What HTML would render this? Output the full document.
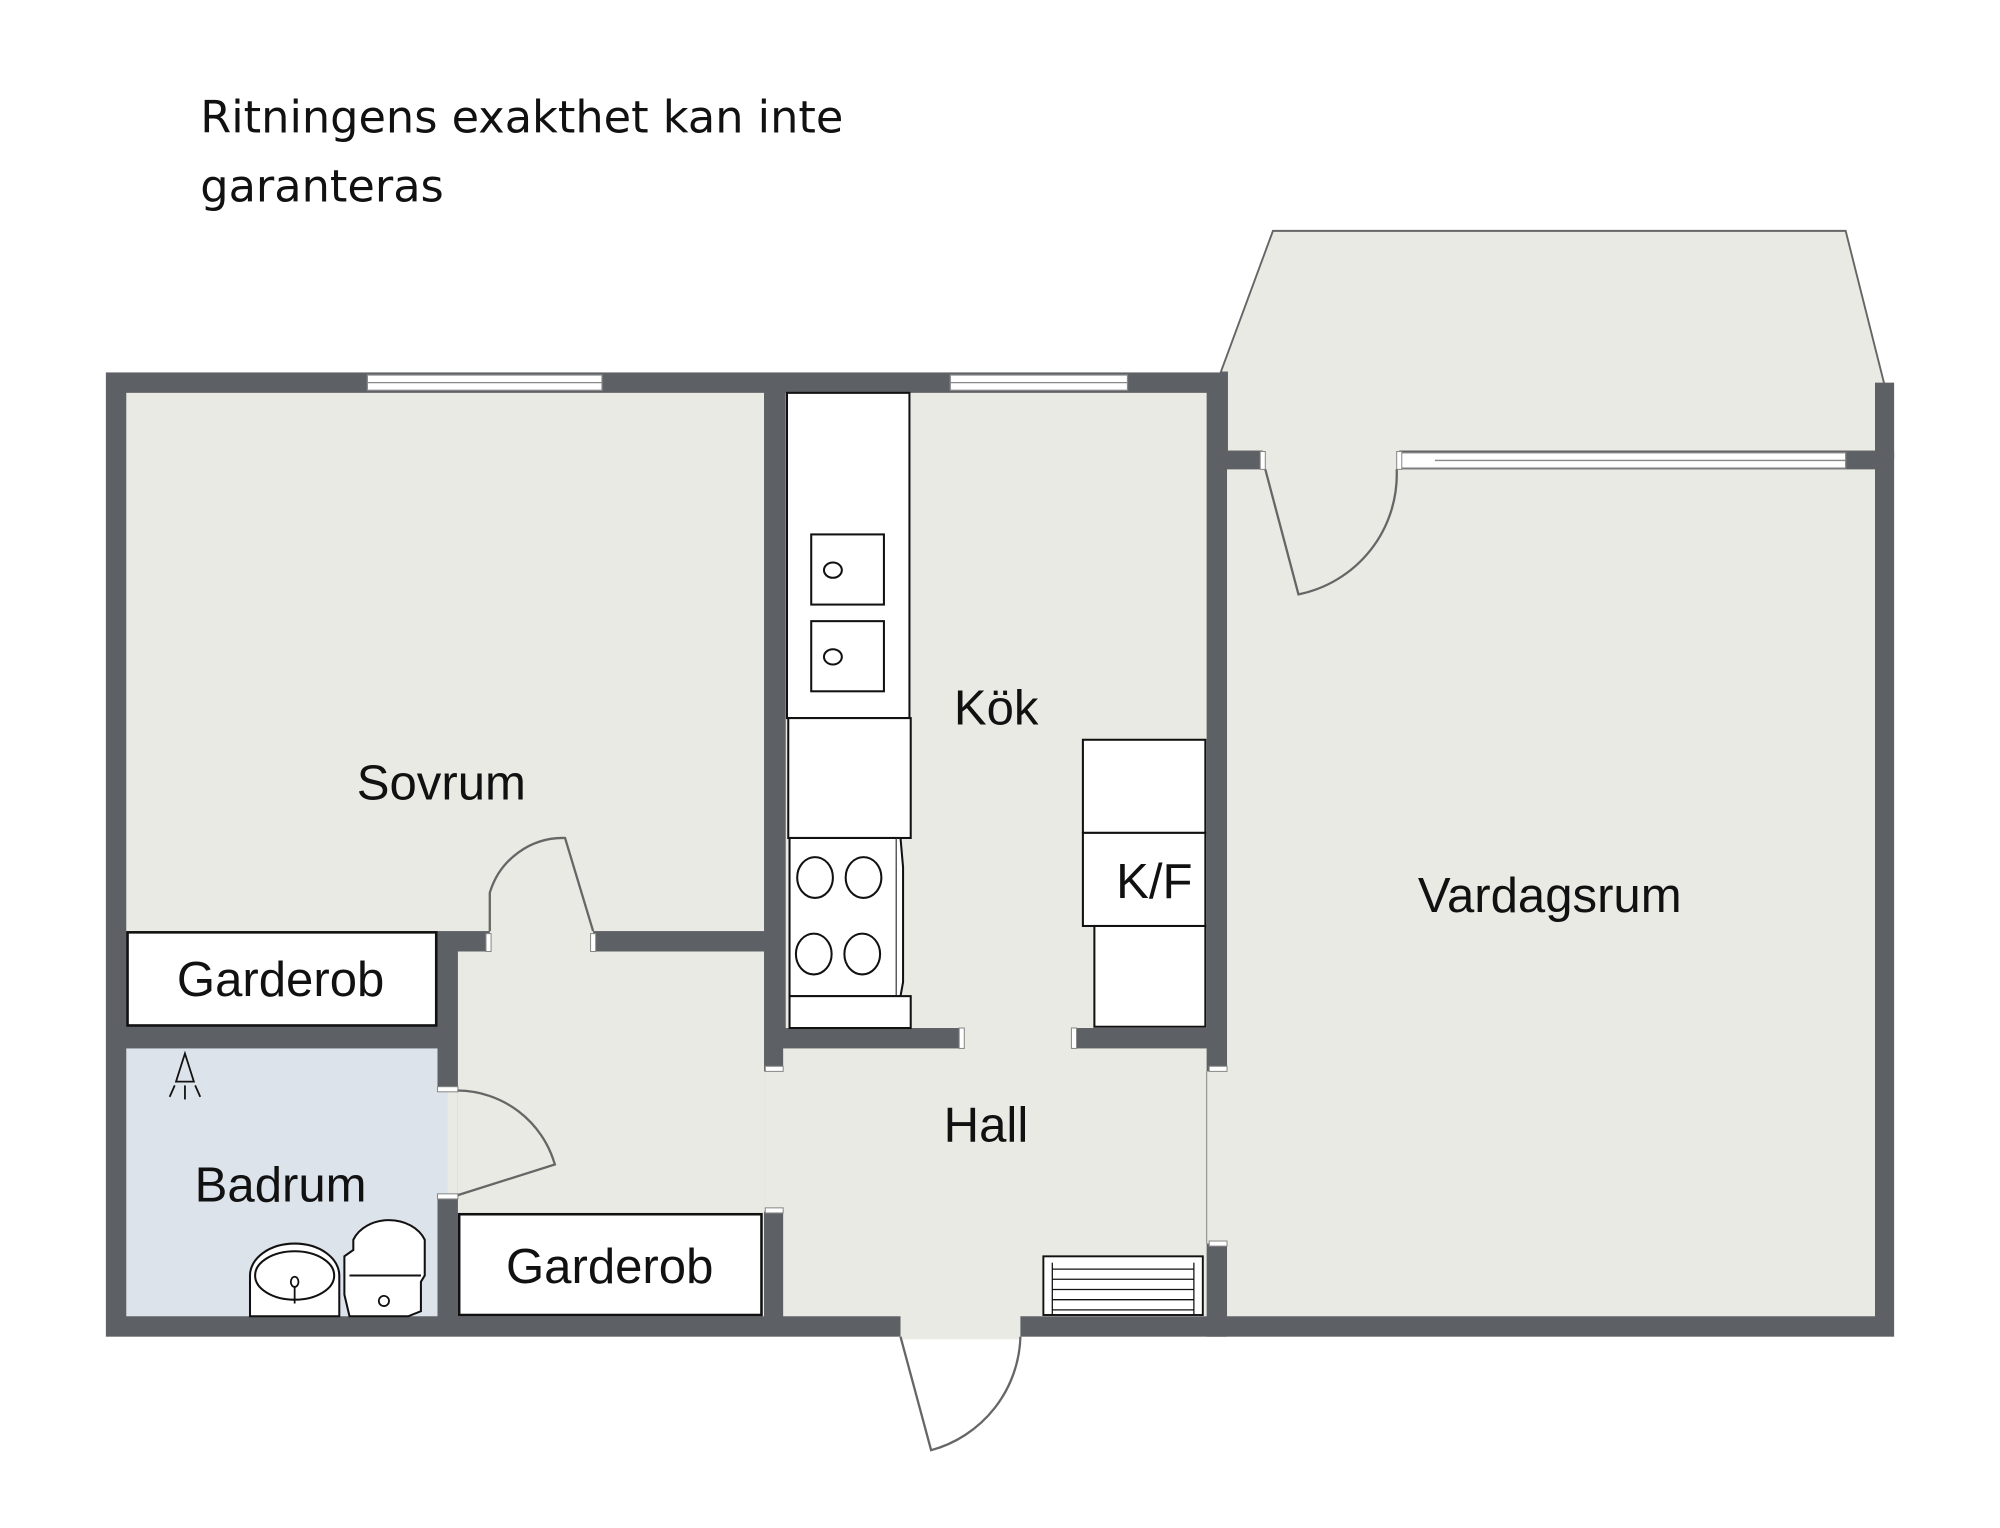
<!DOCTYPE html>
<html><head><meta charset="utf-8"><style>
html,body{margin:0;padding:0;background:#fff;}
svg{display:block;}
text{font-family:"Liberation Sans",sans-serif;fill:#111;}
</style></head><body>
<svg width="2000" height="1528" viewBox="0 0 1568 1198" preserveAspectRatio="none" xmlns="http://www.w3.org/2000/svg">
<rect width="1568" height="1198" fill="#fff"/>
<text x="157" y="104" font-size="35" style="font-family:'DejaVu Sans','Liberation Sans',sans-serif" fill="#111">Ritningens exakthet kan inte</text>
<text x="157" y="158" font-size="35" style="font-family:'DejaVu Sans','Liberation Sans',sans-serif" fill="#111">garanteras</text>
<polygon points="957,292 998,181 1447,181 1477,300 1477,354 962,354 962,292" fill="#e9eae3" stroke="#666" stroke-width="1.5"/>
<rect x="83" y="292" width="879" height="756" fill="#5d6064"/>
<rect x="946" y="354" width="539" height="694" fill="#5d6064"/>
<rect x="1470" y="300" width="15" height="60" fill="#5d6064"/>
<g fill="#e9eae3">
<rect x="99" y="308" width="500" height="422"/>
<rect x="616" y="308" width="330" height="498"/>
<rect x="962" y="368" width="508" height="664"/>
<rect x="614" y="822" width="332" height="210"/>
<rect x="359" y="746" width="240" height="286"/>
<rect x="599" y="840" width="17" height="110"/>
<rect x="384" y="728" width="81" height="20"/>
<rect x="752" y="804" width="91" height="20"/>
<rect x="944" y="840" width="20" height="135"/>
<rect x="990" y="352" width="107" height="18"/>
<rect x="706" y="1030" width="94" height="20"/>
<rect x="343" y="855" width="16" height="82"/>
</g>
<rect x="99" y="822" width="244" height="210" fill="#dde3ea"/>
<rect x="343" y="855" width="8" height="82" fill="#dde3ea"/>
<g fill="#fff" stroke="#888" stroke-width="1">
<rect x="288" y="294" width="184" height="12"/>
<rect x="745" y="294" width="139" height="12"/>
<rect x="1097" y="355" width="350" height="12"/>
</g>
<line x1="288" y1="300" x2="472" y2="300" stroke="#888"/>
<line x1="745" y1="300" x2="884" y2="300" stroke="#888"/>
<line x1="1125" y1="361" x2="1447" y2="361" stroke="#888"/>
<g fill="#fff" stroke="#888" stroke-width="0.8">
<rect x="752" y="806" width="4" height="16"/><rect x="840" y="806" width="4" height="16"/>
<rect x="343" y="852" width="16" height="4"/><rect x="343" y="936" width="16" height="4"/>
<rect x="600" y="836" width="14" height="4"/><rect x="600" y="947" width="14" height="4"/>
<rect x="948" y="836" width="14" height="4"/><rect x="948" y="973" width="14" height="4"/>
<rect x="381" y="732" width="4" height="14"/><rect x="463" y="732" width="4" height="14"/>
<rect x="988" y="354" width="4" height="14"/><rect x="1095" y="354" width="4" height="14"/>
</g>
<g fill="none" stroke="#666" stroke-width="1.8">
<path d="M384,730 L384,700 A60,60 0 0 1 443,657 L465,730"/>
<path d="M992,368 L1018,466 A96,96 0 0 0 1095,368"/>
<path d="M706,1048 L730,1137 A95,95 0 0 0 800,1048"/>
<path d="M359,855 A80,80 0 0 1 435,913 L359,937"/>
</g>
<line x1="946" y1="840" x2="946" y2="975" stroke="#999" stroke-width="1"/>
<rect x="100" y="731" width="242" height="73" fill="#fff" stroke="#111" stroke-width="2"/>
<rect x="360" y="952" width="237" height="79" fill="#fff" stroke="#111" stroke-width="2"/>
<g fill="#fff" stroke="#111" stroke-width="1.6">
<rect x="617" y="308" width="96" height="255"/>
<rect x="636" y="419" width="57" height="55"/>
<rect x="636" y="487" width="57" height="55"/>
<rect x="618" y="563" width="96" height="94"/>
<rect x="619" y="657" width="84" height="124"/>
<path d="M703,657 L706,657 L708,680 L708,770 L706,781 L703,781" />
<rect x="619" y="781" width="95" height="25"/>
<rect x="849" y="580" width="96" height="73"/>
<rect x="849" y="653" width="96" height="73"/>
<rect x="858" y="726" width="87" height="79"/>
</g>
<g fill="none" stroke="#111" stroke-width="1.6">
<ellipse cx="653" cy="447" rx="7" ry="6"/><ellipse cx="653" cy="515" rx="7" ry="6"/>
<ellipse cx="639" cy="688" rx="14" ry="16"/><ellipse cx="677" cy="688" rx="14" ry="16"/>
<ellipse cx="638" cy="748" rx="14" ry="16"/><ellipse cx="676" cy="748" rx="14" ry="16"/>
</g>
<rect x="818" y="985" width="125" height="46" stroke="#111" stroke-width="1.5" fill="#fff"/>
<g stroke="#111" stroke-width="1">
<line x1="825" y1="995" x2="936" y2="995"/><line x1="825" y1="1003" x2="936" y2="1003"/>
<line x1="825" y1="1011" x2="936" y2="1011"/><line x1="825" y1="1019" x2="936" y2="1019"/>
<line x1="825" y1="1027" x2="936" y2="1027"/>
<line x1="825" y1="990" x2="825" y2="1031"/><line x1="936" y1="990" x2="936" y2="1031"/>
</g>
<g fill="#fff" stroke="#111" stroke-width="1.6">
<path d="M196,1032 L196,1000 A35,25 0 0 1 266,1000 L266,1032 Z"/>
<ellipse cx="231" cy="1000" rx="31" ry="19"/>
<path d="M274,1032 L270,1015 L270,985 L277,980 L277,972 A30,24 0 0 1 333,972 L333,1000 L330,1005 L330,1028 L320,1032 Z"/>
<line x1="274" y1="1000" x2="330" y2="1000"/>
</g>
<g fill="none" stroke="#111" stroke-width="1.4">
<ellipse cx="231" cy="1005" rx="3" ry="4"/><line x1="231" y1="1009" x2="231" y2="1022"/>
<circle cx="301" cy="1020" r="4"/>
<path d="M145,826 L138,848 L152,848 Z"/>
<line x1="133" y1="860" x2="137" y2="851"/><line x1="145" y1="851" x2="145" y2="862"/><line x1="157" y1="860" x2="153" y2="851"/>
</g>
<g font-size="38.5">
<text x="346" y="627" text-anchor="middle">Sovrum</text>
<text x="781" y="568" text-anchor="middle">Kök</text>
<text x="905" y="704" text-anchor="middle">K/F</text>
<text x="1215" y="715" text-anchor="middle">Vardagsrum</text>
<text x="220" y="781" text-anchor="middle">Garderob</text>
<text x="773" y="895" text-anchor="middle">Hall</text>
<text x="220" y="942" text-anchor="middle">Badrum</text>
<text x="478" y="1006" text-anchor="middle">Garderob</text>
</g>
</svg>
</body></html>
